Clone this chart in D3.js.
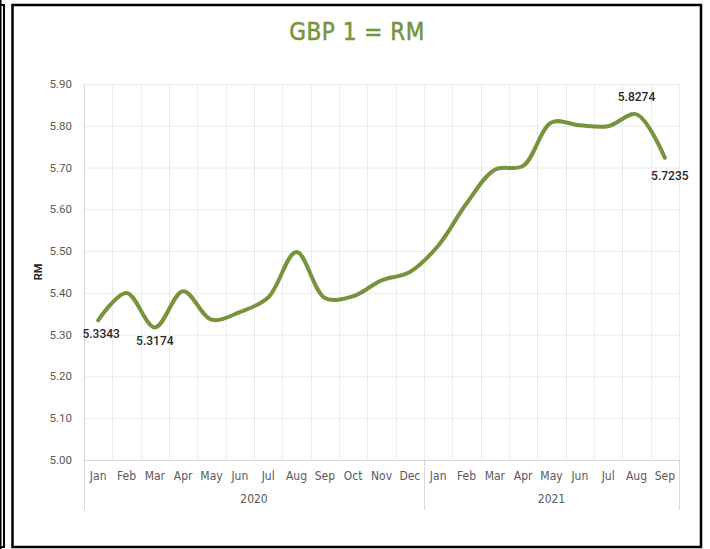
<!DOCTYPE html>
<html>
<head>
<meta charset="utf-8">
<script src="https://cdn.jsdelivr.net/npm/d3@7"></script>
<style>
    body { margin: 0; background: #fff; }
    svg { display: block; }
    .tick-y { font-family: Roboto, "Liberation Sans", sans-serif; font-size: 11.5px; fill: #595959; }
    .tick-x { font-family: "Liberation Sans Narrow", "DejaVu Sans Condensed", sans-serif; font-size: 12px; fill: #595959; }
    .data-label { font-family: Roboto, sans-serif; font-size: 12px; font-weight: 500; fill: #262626; }
</style>
</head>
<body>
<div id="chart"></div>
<script>
(function () {
    // Data
    var months = ['Jan', 'Feb', 'Mar', 'Apr', 'May', 'Jun', 'Jul', 'Aug', 'Sep', 'Oct', 'Nov', 'Dec',
                  'Jan', 'Feb', 'Mar', 'Apr', 'May', 'Jun', 'Jul', 'Aug', 'Sep'];
    var years = ['2020', '2021'];
    var monthsPerYear = [12, 9];
    var rates = [5.3343, 5.400, 5.3174, 5.404, 5.336, 5.354, 5.389, 5.498, 5.388, 5.392, 5.430, 5.450,
                 5.513, 5.614, 5.695, 5.704, 5.808, 5.801, 5.799, 5.8274, 5.7235];
    var yTicks = [5.0, 5.1, 5.2, 5.3, 5.4, 5.5, 5.6, 5.7, 5.8, 5.9];
    // index of points with value labels, and where the label sits
    var labelled = [
        { i: 0, dx: 3, dy: 18, anchor: 'middle' },
        { i: 2, dx: 0, dy: 18, anchor: 'middle' },
        { i: 19, dx: 0, dy: -13, anchor: 'middle' },
        { i: 20, dx: 5, dy: 22, anchor: 'middle' }
    ];

    var LINE_COLOR = '#77933C';
    var GRID_COLOR = '#ebebeb';
    var AXIS_COLOR = '#d9d9d9';

    var W = 710, H = 549;
    var plot = { left: 84, right: 679, top: 84, bottom: 460 };

    var svg = d3.select('#chart').append('svg')
        .attr('width', W).attr('height', H);

    // Frames (neighbouring box edge on the left, chart box)
    svg.append('line').attr('x1', 0.5).attr('x2', 0.5).attr('y1', 0).attr('y2', H)
        .attr('stroke', '#000').attr('stroke-width', 2);
    svg.append('rect').attr('x', -10).attr('y', 5).attr('width', 14).attr('height', 542)
        .attr('fill', 'none').attr('stroke', '#000').attr('stroke-width', 2);
    svg.append('rect').attr('x', 12.5).attr('y', 5).attr('width', 688.5).attr('height', 542)
        .attr('fill', '#fff').attr('stroke', '#000').attr('stroke-width', 2.5);

    var x = d3.scaleBand()
        .domain(d3.range(months.length))
        .range([plot.left, plot.right]);

    var y = d3.scaleLinear()
        .domain([5.0, 5.9])
        .range([plot.bottom, plot.top]);

    var grid = svg.append('g');

    // Horizontal gridlines
    grid.selectAll('line.h')
        .data(yTicks.slice(1))
        .join('line')
        .attr('x1', plot.left).attr('x2', plot.right)
        .attr('y1', function (d) { return y(d) + 0.5; })
        .attr('y2', function (d) { return y(d) + 0.5; })
        .attr('stroke', GRID_COLOR).attr('stroke-width', 1);

    // Vertical gridlines at category boundaries
    grid.selectAll('line.v')
        .data(d3.range(1, months.length + 1))
        .join('line')
        .attr('x1', function (d) { return Math.round(plot.left + d * x.step()) + 0.5; })
        .attr('x2', function (d) { return Math.round(plot.left + d * x.step()) + 0.5; })
        .attr('y1', plot.top).attr('y2', plot.bottom)
        .attr('stroke', GRID_COLOR).attr('stroke-width', 1);

    // Y axis line and x axis line
    svg.append('line')
        .attr('x1', plot.left + 0.5).attr('x2', plot.left + 0.5)
        .attr('y1', plot.top).attr('y2', plot.bottom)
        .attr('stroke', AXIS_COLOR);
    svg.append('line')
        .attr('x1', plot.left).attr('x2', plot.right)
        .attr('y1', plot.bottom + 0.5).attr('y2', plot.bottom + 0.5)
        .attr('stroke', AXIS_COLOR);

    // Y tick labels
    svg.append('g').selectAll('text')
        .data(yTicks)
        .join('text')
        .attr('class', 'tick-y')
        .attr('x', 72)
        .attr('y', function (d) { return y(d) + 4; })
        .attr('text-anchor', 'end')
        .text(function (d) { return d.toFixed(2); });

    // Y axis title
    svg.append('text')
        .attr('transform', 'translate(42,' + ((plot.top + plot.bottom) / 2) + ') rotate(-90)')
        .attr('text-anchor', 'middle')
        .attr('font-family', 'Roboto, sans-serif')
        .attr('font-size', 11)
        .attr('font-weight', 'bold')
        .attr('fill', '#262626')
        .text('RM');

    // Month labels
    svg.append('g').selectAll('text')
        .data(months)
        .join('text')
        .attr('class', 'tick-x')
        .attr('x', function (d, i) { return x(i) + x.bandwidth() / 2; })
        .attr('y', 480)
        .attr('text-anchor', 'middle')
        .text(function (d) { return d; });

    // Year groups: separators and labels
    var starts = [0];
    monthsPerYear.forEach(function (n, k) { starts.push(starts[k] + n); });
    svg.append('g').selectAll('line')
        .data(starts)
        .join('line')
        .attr('x1', function (d) { return Math.round(plot.left + d * x.step()) + 0.5; })
        .attr('x2', function (d) { return Math.round(plot.left + d * x.step()) + 0.5; })
        .attr('y1', plot.bottom).attr('y2', 510)
        .attr('stroke', AXIS_COLOR);
    svg.append('g').selectAll('text')
        .data(years)
        .join('text')
        .attr('class', 'tick-x')
        .attr('x', function (d, k) {
            return plot.left + (starts[k] + monthsPerYear[k] / 2) * x.step();
        })
        .attr('y', 503)
        .attr('text-anchor', 'middle')
        .text(function (d) { return d; });

    // Smoothed line
    var line = d3.line()
        .x(function (d, i) { return x(i) + x.bandwidth() / 2; })
        .y(function (d) { return y(d); })
        .curve(d3.curveCatmullRom.alpha(0.5));

    svg.append('path')
        .datum(rates)
        .attr('d', line)
        .attr('fill', 'none')
        .attr('stroke', LINE_COLOR)
        .attr('stroke-width', 4)
        .attr('stroke-linecap', 'round')
        .attr('stroke-linejoin', 'round');

    // Data labels
    svg.append('g').selectAll('text')
        .data(labelled)
        .join('text')
        .attr('class', 'data-label')
        .attr('x', function (d) { return x(d.i) + x.bandwidth() / 2 + d.dx; })
        .attr('y', function (d) { return y(rates[d.i]) + d.dy; })
        .attr('text-anchor', function (d) { return d.anchor; })
        .text(function (d) { return rates[d.i].toFixed(4); });

    // Title
    svg.append('text')
        .attr('x', 357)
        .attr('y', 40)
        .attr('text-anchor', 'middle')
        .attr('font-family', '"DejaVu Sans Condensed", "Liberation Sans Narrow", sans-serif')
        .attr('font-size', 24)
        .attr('fill', LINE_COLOR)
        .attr('stroke', LINE_COLOR)
        .attr('stroke-width', 0.5)
        .attr('letter-spacing', 0.5)
        .text('GBP 1 = RM');
}());
</script>
</body>
</html>
